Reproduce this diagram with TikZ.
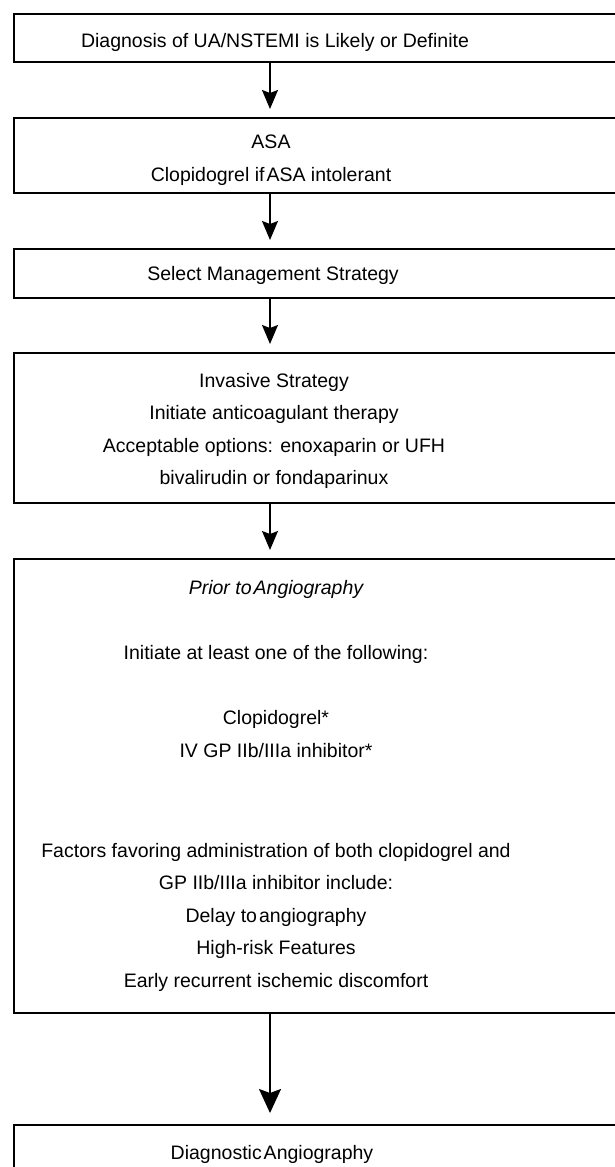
\documentclass[tikz,border=0pt]{standalone}
\usepackage{fontspec}
\setmainfont{Liberation Sans}
\usetikzlibrary{arrows.meta}
\begin{document}
\begin{tikzpicture}[x=1pt,y=-1pt,
  boxline/.style={draw, line width=2pt, rectangle, inner sep=0pt, minimum width=700pt, anchor=north west},
  txt/.style={align=center, font=\fontsize{19.5}{32.5}\selectfont, inner sep=0pt},
  arr/.style={line width=1.5pt, -{Stealth[length=19pt,width=16pt,inset=3pt]}, shorten >=8pt},
  bigarr/.style={line width=2pt, -{Stealth[length=24pt,width=22pt,inset=4pt]}, shorten >=11pt}]
\useasboundingbox (0,0) rectangle (615,1167);
\clip (0,0) rectangle (615,1167);
\fill[white] (0,0) rectangle (615,1167);
% boxes
\node[boxline, minimum height=48pt] (b1) at (13,13) {};
\node[boxline, minimum height=75pt] (b2) at (13,117) {};
\node[boxline, minimum height=49pt] (b3) at (13,248) {};
\node[boxline, minimum height=150pt] (b4) at (13,352) {};
\node[boxline, minimum height=454pt] (b5) at (13,558) {};
\node[boxline, minimum height=120pt] (b6) at (13,1124) {};
% texts
\node[txt] (t1) at (275,42) {Diagnosis of UA/NSTEMI is Likely or Definite};
\node[txt] (t2) at (271,160) {ASA\\Clopidogrel if\kern2pt ASA intolerant};
\node[txt] (t3) at (273,275) {Select Management Strategy};
\node[txt] (t4) at (274,431) {Invasive Strategy\\Initiate anticoagulant therapy\\Acceptable options: enoxaparin or UFH\\bivalirudin or fondaparinux};
\node[txt] (t5) at (276,786) {\itshape Prior to\kern2pt Angiography\\[32.5pt]
  Initiate at least one of the following:\\[32.5pt]
  Clopidogrel*\\IV GP IIb/IIIa inhibitor*\\[67.5pt]
  Factors favoring administration of both clopidogrel and\\
  GP IIb/IIIa inhibitor include:\\
  Delay to\kern2pt angiography\\
  High-risk Features\\
  Early recurrent ischemic discomfort};
\node[txt] (t6) at (272,1154) {Diagnostic\kern2pt Angiography};
% connectors
\coordinate (ax) at (270,0);
\draw[arr] (b1.south -| ax) -- (b2.north -| ax);
\draw[arr] (b2.south -| ax) -- (b3.north -| ax);
\draw[arr] (b3.south -| ax) -- (b4.north -| ax);
\draw[arr] (b4.south -| ax) -- (b5.north -| ax);
\draw[bigarr] (b5.south -| ax) -- (b6.north -| ax);
\end{tikzpicture}
\end{document}
